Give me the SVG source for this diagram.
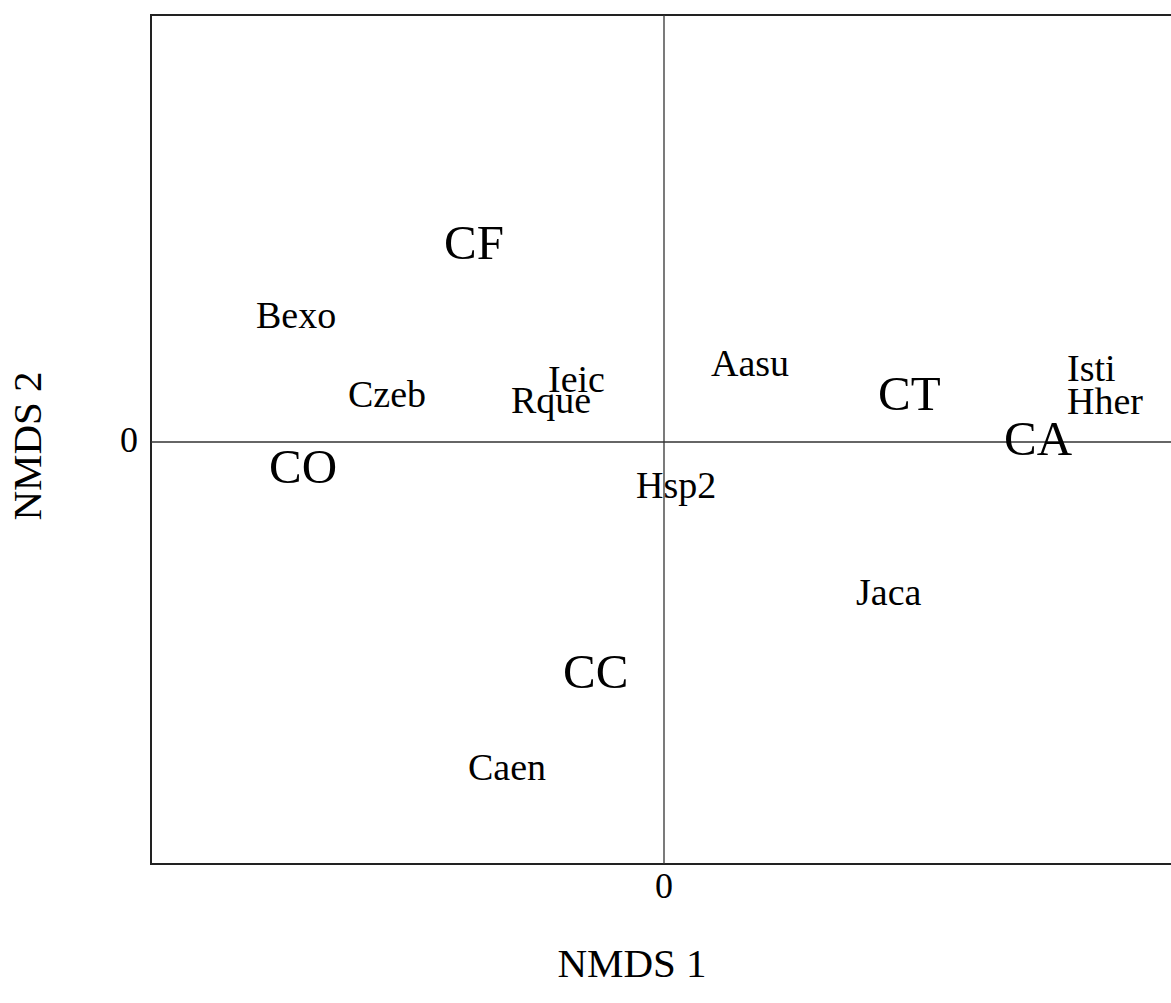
<svg xmlns="http://www.w3.org/2000/svg" width="1171" height="1003" viewBox="0 0 1171 1003">
<style>
text{font-family:"Liberation Serif","Times New Roman",serif;fill:#000}
.s{font-size:38px}
.b{font-size:49px}
.t{font-size:36px}
.a{font-size:41px}
.frame{stroke:#222;stroke-width:2;fill:none}
.ax{stroke:#333;stroke-width:1.3;fill:none}
</style>
<rect width="1171" height="1003" fill="#fff"/>
<g id="frame">
<path class="frame" d="M1171 15 H151 V864 H1171"/>
</g>
<g id="axes">
<line class="ax" x1="664" y1="15" x2="664" y2="864"/>
<line class="ax" x1="151" y1="442" x2="1171" y2="442"/>
</g>
<g id="ticks">
<text class="t" x="664" y="898" text-anchor="middle">0</text>
<text class="t" x="129" y="452" text-anchor="middle">0</text>
</g>
<g id="axis-titles">
<text class="a" x="632" y="977" text-anchor="middle">NMDS 1</text>
<text class="a" transform="translate(41 446) rotate(-90)" text-anchor="middle">NMDS 2</text>
</g>
<g id="groups">
<text class="b" x="444" y="259">CF</text>
<text class="b" x="269" y="483">CO</text>
<text class="b" x="563" y="688">CC</text>
<text class="b" x="878" y="410">CT</text>
<text class="b" x="1004" y="455">CA</text>
</g>
<g id="species">
<text class="s" x="256" y="328">Bexo</text>
<text class="s" x="348" y="407">Czeb</text>
<text class="s" x="548" y="392">Ieic</text>
<text class="s" x="511" y="413">Rque</text>
<text class="s" x="711" y="376">Aasu</text>
<text class="s" x="1067" y="381">Isti</text>
<text class="s" x="1067" y="414">Hher</text>
<text class="s" x="636" y="498">Hsp2</text>
<text class="s" x="856" y="605">Jaca</text>
<text class="s" x="468" y="780">Caen</text>
</g>
</svg>
